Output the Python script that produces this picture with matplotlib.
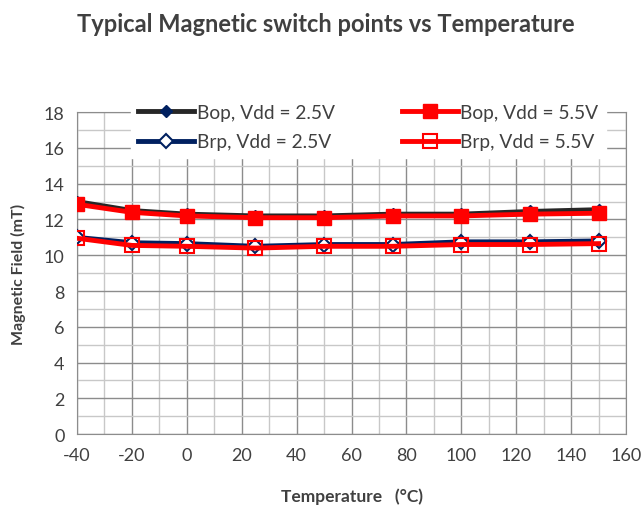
import matplotlib.pyplot as plt
from matplotlib.ticker import MultipleLocator

plt.rcParams['font.family'] = ['Lato', 'DejaVu Sans']
plt.rcParams['axes.unicode_minus'] = False

temps = [-40, -20, 0, 25, 50, 75, 100, 125, 150]
bop_25 = [13.0, 12.5, 12.3, 12.2, 12.2, 12.3, 12.3, 12.45, 12.55]
bop_55 = [12.85, 12.4, 12.2, 12.1, 12.1, 12.2, 12.2, 12.3, 12.35]
brp_25 = [11.0, 10.7, 10.65, 10.5, 10.6, 10.6, 10.75, 10.75, 10.8]
brp_55 = [10.95, 10.55, 10.5, 10.4, 10.5, 10.5, 10.6, 10.6, 10.65]

fig = plt.figure(figsize=(6.44, 5.1), dpi=100)
ax = fig.add_axes([0.1196, 0.147, 0.8525, 0.631])

navy = '#002060'
h1, = ax.plot(temps, bop_25, color='#262626', lw=3.5, marker='D', ms=6,
              mfc=navy, mec=navy, label='Bop, Vdd = 2.5V', zorder=3)
h2, = ax.plot(temps, bop_55, color='#ff0000', lw=3.5, marker='s', ms=10,
              mfc='#ff0000', mec='#ff0000', label='Bop, Vdd = 5.5V', zorder=4)
h3, = ax.plot(temps, brp_25, color=navy, lw=3.5, marker='D', ms=7,
              mfc='white', mec=navy, mew=1.5, label='Brp, Vdd = 2.5V', zorder=3)
h4, = ax.plot(temps, brp_55, color='#ff0000', lw=3.5, marker='s', ms=10,
              mfc='none', mec='#ff0000', mew=1.5, label='Brp, Vdd = 5.5V', zorder=4)

ax.set_xlim(-40, 160)
ax.set_ylim(0, 18)
ax.xaxis.set_major_locator(MultipleLocator(20))
ax.xaxis.set_minor_locator(MultipleLocator(10))
ax.yaxis.set_major_locator(MultipleLocator(2))
ax.yaxis.set_minor_locator(MultipleLocator(1))
ax.grid(which='major', color='#8c8c8c', lw=1.0)
ax.grid(which='minor', color='#c8c8c8', lw=1.0)
ax.set_axisbelow(True)
for s in ax.spines.values():
    s.set_color('#8c8c8c')
ax.tick_params(which='both', length=0, labelsize=13, colors='#404040', pad=9)

ax.set_xlabel('Temperature   (°C)', fontsize=12.5, fontweight='bold', color='#404040', labelpad=18)
ax.set_ylabel('Magnetic Field (mT)', fontsize=11.5, fontweight='bold', color='#404040', labelpad=13)

fig.suptitle('Typical Magnetic switch points vs Temperature', x=0.506, y=0.975,
             fontsize=17, fontweight='bold', color='#404040')

leg = ax.legend([h1, h3, h2, h4], [h.get_label() for h in (h1, h3, h2, h4)],
                ncol=2, loc='upper center', bbox_to_anchor=(0.531, 1.05),
                fontsize=13.8, frameon=True, framealpha=1, edgecolor='white',
                fancybox=False, handlelength=2.9, columnspacing=3.5, labelspacing=0.65,
                labelcolor='#404040', borderaxespad=0, handletextpad=0.15)
leg.set_zorder(5)

fig.savefig('out.png', dpi=100)
